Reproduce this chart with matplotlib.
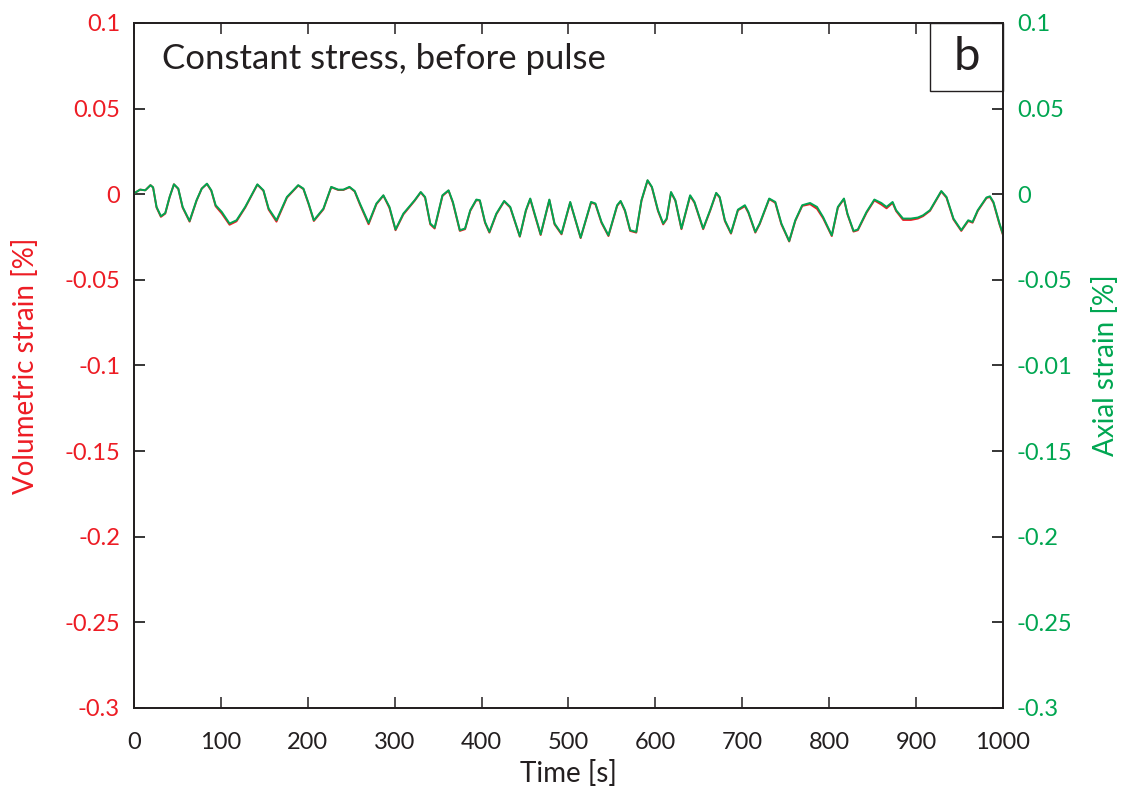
import matplotlib
matplotlib.use("Agg")
import matplotlib.pyplot as plt
from matplotlib.patches import Rectangle

plt.rcParams['font.family'] = ['Lato', 'DejaVu Sans']

# time [s]
t = [0, 7, 13, 19, 22, 26, 31, 36, 41, 46, 51, 56, 64, 72, 78, 84, 89, 94, 101, 110,
     118, 128, 142, 149, 155, 164, 176, 189, 195, 201, 207, 218, 227, 235, 241, 248, 254,
     260, 270, 279, 287, 294, 301, 310, 323, 330, 335, 341, 346, 355, 362, 367, 375, 381,
     387, 394, 398, 404, 409, 417, 426, 433, 444, 451, 456, 461, 468, 478, 484, 492, 502,
     514, 526, 531, 538, 546, 556, 560, 565, 571, 578, 584, 591, 596, 603, 609, 613, 618,
     623, 630, 640, 645, 655, 663, 670, 674, 680, 687, 695, 703, 707, 715, 720, 731, 738,
     745, 754, 761, 769, 778, 786, 793, 803, 810, 817, 821, 828, 833, 843, 852, 860, 866,
     873, 877, 885, 894, 902, 908, 916, 929, 935, 943, 952, 960, 965, 971, 981, 985, 989,
     996, 1000]

# axial strain [%] (green)
axial = [0.0005, 0.0027, 0.0023, 0.0053, 0.004, -0.0074, -0.0128, -0.011, -0.0016, 0.0058,
         0.0033, -0.0074, -0.0156, -0.0035, 0.0033, 0.0062, 0.0023, -0.0064, -0.0103, -0.0171,
         -0.0152, -0.0074, 0.0058, 0.0023, -0.0084, -0.0152, -0.0016, 0.0053, 0.0033, -0.0054,
         -0.0152, -0.0084, 0.0043, 0.0027, 0.0027, 0.0043, 0.0019, -0.0054, -0.0168, -0.0054,
         -0.0006, -0.0074, -0.0206, -0.0113, -0.0035, 0.0013, -0.0016, -0.0171, -0.0195, -0.0006,
         0.0023, -0.0045, -0.021, -0.020, -0.0093, -0.0031, -0.0035, -0.0162, -0.022, -0.0113,
         -0.0039, -0.0074, -0.0245, -0.0093, -0.0025, -0.0113, -0.0234, -0.0031, -0.0171, -0.023,
         -0.0045, -0.0253, -0.0045, -0.0054, -0.0162, -0.024, -0.0064, -0.0039, -0.0093, -0.021,
         -0.022, -0.0035, 0.0082, 0.0043, -0.0093, -0.0171, -0.0142, 0.0013, -0.0035, -0.020,
         -0.0006, -0.0045, -0.020, -0.0093, 0.0008, -0.0016, -0.0152, -0.0226, -0.009, -0.0064,
         -0.0103, -0.022, -0.0171, -0.0025, -0.0045, -0.0171, -0.0273, -0.0152, -0.0064, -0.0051,
         -0.0074, -0.0133, -0.024, -0.0074, -0.0025, -0.0113, -0.0214, -0.0206, -0.0103, -0.0031,
         -0.0051, -0.0074, -0.0045, -0.0093, -0.0142, -0.0142, -0.0136, -0.0123, -0.0093, 0.0019,
         -0.0016, -0.0142, -0.021, -0.0152, -0.0162, -0.0093, -0.0019, -0.0012, -0.0045, -0.0171,
         -0.0234]

# volumetric strain [%] (red)
volumetric = [0.0005, 0.0027, 0.0023, 0.0053, 0.004, -0.0078, -0.0132, -0.0113, -0.0018, 0.0058,
              0.0031, -0.0078, -0.0160, -0.0038, 0.0033, 0.0060, 0.0020, -0.0070, -0.0112, -0.0178,
              -0.0158, -0.0078, 0.0056, 0.0020, -0.0090, -0.0160, -0.0020, 0.0051, 0.0030, -0.0058,
              -0.0156, -0.0088, 0.0041, 0.0025, 0.0025, 0.0041, 0.0016, -0.0060, -0.0175, -0.0058,
              -0.0008, -0.0080, -0.0210, -0.0118, -0.0038, 0.0011, -0.0020, -0.0176, -0.0200, -0.0010,
              0.0021, -0.0050, -0.0214, -0.0204, -0.0097, -0.0034, -0.0038, -0.0167, -0.0224, -0.0117,
              -0.0042, -0.0078, -0.0248, -0.0097, -0.0028, -0.0118, -0.0238, -0.0034, -0.0176, -0.0234,
              -0.0048, -0.0256, -0.0048, -0.0058, -0.0167, -0.0244, -0.0068, -0.0042, -0.0098, -0.0214,
              -0.0224, -0.0038, 0.0080, 0.0040, -0.0098, -0.0176, -0.0146, 0.0010, -0.0038, -0.0204,
              -0.0010, -0.0050, -0.0204, -0.0097, 0.0006, -0.0020, -0.0157, -0.0230, -0.0094, -0.0070,
              -0.0108, -0.0224, -0.0175, -0.0028, -0.0050, -0.0176, -0.0276, -0.0156, -0.0068, -0.0058,
              -0.0085, -0.0140, -0.0244, -0.0078, -0.0028, -0.0117, -0.0218, -0.0210, -0.0108, -0.0036,
              -0.0060, -0.0082, -0.0050, -0.0098, -0.0150, -0.0150, -0.0142, -0.0128, -0.0097, 0.0016,
              -0.0020, -0.0147, -0.0214, -0.0156, -0.0166, -0.0097, -0.0022, -0.0016, -0.0050, -0.0176,
              -0.0238]

x_ticks = [0, 100, 200, 300, 400, 500, 600, 700, 800, 900, 1000]
y_ticks = [0.1, 0.05, 0, -0.05, -0.1, -0.15, -0.2, -0.25, -0.3]
left_labels = ['0.1', '0.05', '0', '-0.05', '-0.1', '-0.15', '-0.2', '-0.25', '-0.3']
right_labels = ['0.1', '0.05', '0', '-0.05', '-0.01', '-0.15', '-0.2', '-0.25', '-0.3']

RED = '#ED1C24'
GREEN = '#00A651'

fig = plt.figure(figsize=(11.43, 7.93), dpi=100)
ax = fig.add_axes([0.1172, 0.1072, 0.7603, 0.8638])
ax2 = ax.twinx()

ax.plot(t, volumetric, color=RED, lw=1.4)
ax2.plot(t, axial, color=GREEN, lw=1.4)

for a in (ax, ax2):
    a.set_xlim(0, 1000)
    a.set_ylim(-0.3, 0.1)
    a.set_yticks(y_ticks)
    for s in a.spines.values():
        s.set_linewidth(1.3)
        s.set_color('#231F20')

ax.set_xticks(x_ticks)
ax.set_xticklabels([str(v) for v in x_ticks])
ax.set_yticklabels(left_labels)
ax2.set_yticklabels(right_labels)

ax.tick_params(axis='x', direction='in', top=True, length=8, width=1.1,
               labelsize=17, colors='#231F20', pad=17)
ax.tick_params(axis='y', direction='in', length=8, width=1.1,
               labelsize=17, labelcolor=RED, pad=10)
ax2.tick_params(axis='y', direction='in', length=8, width=1.1,
                labelsize=17, labelcolor=GREEN, pad=10)

ax.set_xlabel('Time [s]', fontsize=20, color='#231F20', labelpad=5)
ax.set_ylabel('Volumetric strain [%]', fontsize=20, color=RED, labelpad=18)
ax2.set_ylabel('Axial strain [%]', fontsize=20, color=GREEN, labelpad=14)

ax2.text(0.032, 0.948, 'Constant stress, before pulse', transform=ax2.transAxes,
         fontsize=25, color='#231F20', va='center', ha='left')
ax2.add_patch(Rectangle((0.916, 0.9007), 0.084, 0.0993, transform=ax2.transAxes,
                        fill=False, edgecolor='#231F20', lw=1.0, clip_on=False))
ax2.text(0.958, 0.951, 'b', transform=ax2.transAxes, fontsize=34,
         color='#231F20', ha='center', va='center')

fig.savefig('out.png', dpi=100)
